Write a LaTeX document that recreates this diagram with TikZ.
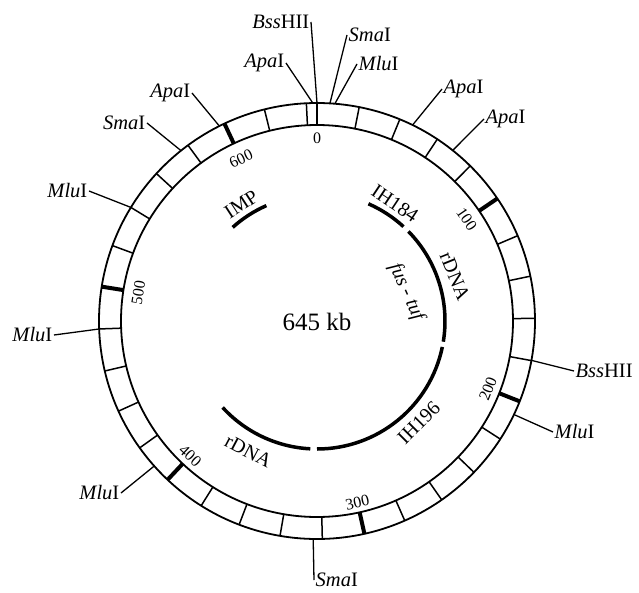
\documentclass[tikz,border=0pt]{standalone}
\usepackage{fontspec}
\setmainfont{Liberation Serif}
\begin{document}
\begin{tikzpicture}[x=1pt,y=1pt,
  ringline/.style={line width=1.8pt},
  thintick/.style={line width=1.5pt},
  thicktick/.style={line width=4pt},
  siteline/.style={line width=1.3pt},
  sitelabel/.style={font=\fontsize{20.5}{20.5}\selectfont, inner sep=1.5pt},
  featarc/.style={line width=3.5pt},
  featlabel/.style={font=\fontsize{20}{20}\selectfont, inner sep=0pt},
  kblabel/.style={font=\fontsize{16}{16}\selectfont, inner sep=0pt}]
\useasboundingbox (-317,-271) rectangle (322,321);
% ring
\draw[ringline] (0,0) circle[radius=218pt];
\draw[ringline] (0,0) circle[radius=196pt];
\foreach \k in {0,20,...,640} {
  \pgfmathsetmacro\a{90-\k/645*360}
  \draw[thintick] (\a:196pt) -- (\a:218pt);
}
\foreach \k in {100,200,...,600} {
  \pgfmathsetmacro\a{90-\k/645*360}
  \draw[thicktick] (\a:196pt) -- (\a:218pt);
}
% kb numbers
\node[kblabel] (n0) at (90:183pt) {0};
\node[kblabel, rotate=-55.8] (n100) at (34.19:181pt) {100};
\node[kblabel, rotate=68.4] (n200) at (-21.63:184pt) {200};
\node[kblabel, rotate=12.56] (n300) at (-77.44:186pt) {300};
\node[kblabel, rotate=-43.26] (n400) at (-133.26:185pt) {400};
\node[kblabel, rotate=80.93] (n500) at (170.93:181pt) {500};
\node[kblabel, rotate=25.12] (n600) at (115.12:179pt) {600};
% restriction sites
\coordinate (s1) at (90:218pt);
\coordinate (s2) at (86.6:218pt);
\coordinate (s3) at (85.3:218pt);
\coordinate (s4) at (91.1:218pt);
\coordinate (s5) at (64:218pt);
\coordinate (s6) at (51.5:218pt);
\coordinate (s7) at (-10.4:218pt);
\coordinate (s8) at (-25.4:218pt);
\coordinate (s9) at (-91:218pt);
\coordinate (s10) at (-138.3:218pt);
\coordinate (s11) at (-177.9:218pt);
\coordinate (s12) at (148.6:218pt);
\coordinate (s13) at (128.6:218pt);
\coordinate (s14) at (116.6:218pt);
\node[sitelabel, anchor=east] (l1) at (-6,299) {\textit{Bss}HII};
\node[sitelabel, anchor=west] (l2) at (30,286) {\textit{Sma}I};
\node[sitelabel, anchor=west] (l3) at (40,257) {\textit{Mlu}I};
\node[sitelabel, anchor=east] (l4) at (-31,258) {\textit{Apa}I};
\node[sitelabel, anchor=west] (l5) at (125,232) {\textit{Apa}I};
\node[sitelabel, anchor=west] (l6) at (167,202) {\textit{Apa}I};
\node[sitelabel, anchor=west] (l7) at (257,-50) {\textit{Bss}HII};
\node[sitelabel, anchor=west] (l8) at (236,-111) {\textit{Mlu}I};
\node[sitelabel, anchor=west] (l9) at (-3,-259) {\textit{Sma}I};
\node[sitelabel, anchor=east] (l10) at (-196,-172) {\textit{Mlu}I};
\node[sitelabel, anchor=east] (l11) at (-263,-14) {\textit{Mlu}I};
\node[sitelabel, anchor=east] (l12) at (-228,130) {\textit{Mlu}I};
\node[sitelabel, anchor=east] (l13) at (-170,198) {\textit{Sma}I};
\node[sitelabel, anchor=east] (l14) at (-125,228) {\textit{Apa}I};
\foreach \i/\side in {1/east,2/west,3/west,4/east,5/west,6/west,7/west,8/west,9/west,10/east,11/east,12/east,13/east,14/east} {
  \draw[siteline] (s\i) -- (l\i.\side);
}
% features
\draw[featarc] (66.3:128pt) arc[start angle=66.3, end angle=47.5, radius=128pt];
\draw[featarc] (44.4:128pt) arc[start angle=44.4, end angle=-9.3, radius=128pt];
\draw[featarc] (-11.7:128pt) arc[start angle=-11.7, end angle=-90, radius=128pt];
\draw[featarc] (-93:128pt) arc[start angle=-93, end angle=-137.5, radius=128pt];
\draw[featarc] (132:126pt) arc[start angle=132, end angle=113.7, radius=126pt];
\node[featlabel, rotate=-33.6] (f1) at (56.4:141pt) {IH184};
\node[featlabel, rotate=-68] (f2) at (18:145pt) {rDNA};
\node[featlabel, rotate=-66] (f3) at (17.3:94pt) {\textit{fus} - \textit{tuf}};
\node[featlabel, rotate=45] (f4) at (-45:144pt) {IH196};
\node[featlabel, rotate=-27.8] (f5) at (-117.8:147pt) {rDNA};
\node[featlabel, rotate=33] (f6) at (123:139pt) {IMP};
\node[font=\fontsize{25}{25}\selectfont, inner sep=0pt] (size) at (0,-1) {645 kb};
\end{tikzpicture}
\end{document}
